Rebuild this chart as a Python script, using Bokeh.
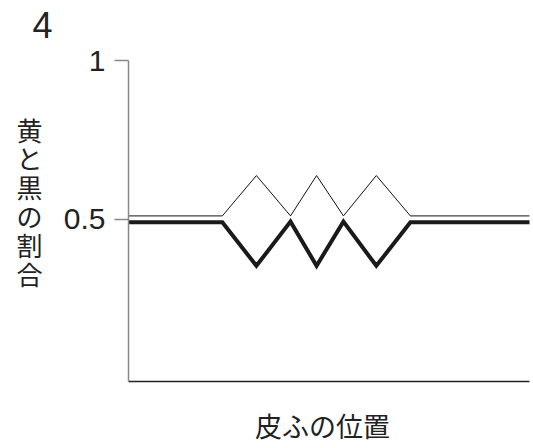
from bokeh.plotting import figure
from bokeh.models import Range1d, FixedTicker, Label, LinearAxis
from bokeh.embed import file_html
from bokeh.resources import INLINE

# ---- data ----
positions = [0, 23.4, 31.9, 40.4, 46.9, 53.6, 61.8, 70.3, 100]
thin_ratio = [0.511, 0.511, 0.638, 0.511, 0.638, 0.511, 0.638, 0.511, 0.511]
thick_ratio = [0.491, 0.491, 0.354, 0.493, 0.354, 0.493, 0.354, 0.491, 0.491]
y_ticks = [0.5, 1]
y_tick_labels = {0.5: "0.5", 1: "1"}
panel_number = "4"
x_title = "皮ふの位置"
y_title = "黄と黒の割合"

W, H = 533, 448
# plot box in canvas pixels: x 0 -> 128, x 100 -> 529 ; y 1 -> 60, y -0.01 -> 381
x0, x1, px0, px1 = 0.0, 100.0, 128.0, 529.0
y0, y1, py0, py1 = -0.01, 1.0, 381.0, 60.0
sx = (x1 - x0) / (px1 - px0)
sy = (y1 - y0) / (py0 - py1)
x_range = Range1d(x0 - px0 * sx, x1 + (W - px1) * sx)
y_range = Range1d(y0 - (H - py0) * sy, y1 + py1 * sy)

p = figure(width=W, height=H, output_backend="svg", toolbar_location=None,
           x_range=x_range, y_range=y_range,
           x_axis_location=None, y_axis_location=None,
           min_border=0, min_border_left=0, min_border_right=0,
           min_border_top=0, min_border_bottom=0)
p.outline_line_color = None
p.grid.visible = False
p.background_fill_color = "white"
p.border_fill_color = "white"

# y axis
ya = LinearAxis(fixed_location=x0, bounds=(y0, y1))
ya.ticker = FixedTicker(ticks=y_ticks)
ya.major_label_overrides = y_tick_labels
ya.minor_tick_line_color = None
ya.major_tick_out = 14
ya.major_tick_in = 0
ya.major_tick_line_color = "#888888"
ya.major_tick_line_width = 1.3
ya.axis_line_color = "#888888"
ya.axis_line_width = 1.5
ya.major_label_standoff = 9
ya.major_label_text_font = "Liberation Sans"
ya.major_label_text_font_size = "30px"
ya.major_label_text_color = "#222222"
p.add_layout(ya, "left")

# x axis (line only)
xa = LinearAxis(fixed_location=y0, bounds=(x0, x1))
xa.ticker = FixedTicker(ticks=[])
xa.minor_tick_line_color = None
xa.major_tick_line_color = None
xa.major_label_text_font_size = "0px"
xa.axis_line_color = "#222222"
xa.axis_line_width = 1.5
p.add_layout(xa, "below")

# lines
p.line(positions, thin_ratio, line_color="#111111", line_width=1, line_join="miter")
p.line(positions, thick_ratio, line_color="#1a1a1a", line_width=4, line_join="miter")

# annotations (screen units: from left edge, from bottom edge)
p.add_layout(Label(x=32, y=H - 24, x_units="screen", y_units="screen",
                   text=panel_number, text_font="Liberation Sans",
                   text_font_size="36px", text_color="#222222",
                   text_baseline="middle", text_align="left"))

p.add_layout(Label(x=322, y=H - 425, x_units="screen", y_units="screen",
                   text=x_title, text_font="Noto Sans CJK JP",
                   text_font_size="27px", text_color="#222222",
                   text_baseline="middle", text_align="center"))

for i, ch in enumerate(y_title):
    p.add_layout(Label(x=29, y=H - 128.5 - 28.8 * i, x_units="screen", y_units="screen",
                       text=ch, text_font="Noto Sans CJK JP",
                       text_font_size="26px", text_color="#222222",
                       text_baseline="middle", text_align="center"))

open("out.html", "w").write(file_html(p, INLINE))
